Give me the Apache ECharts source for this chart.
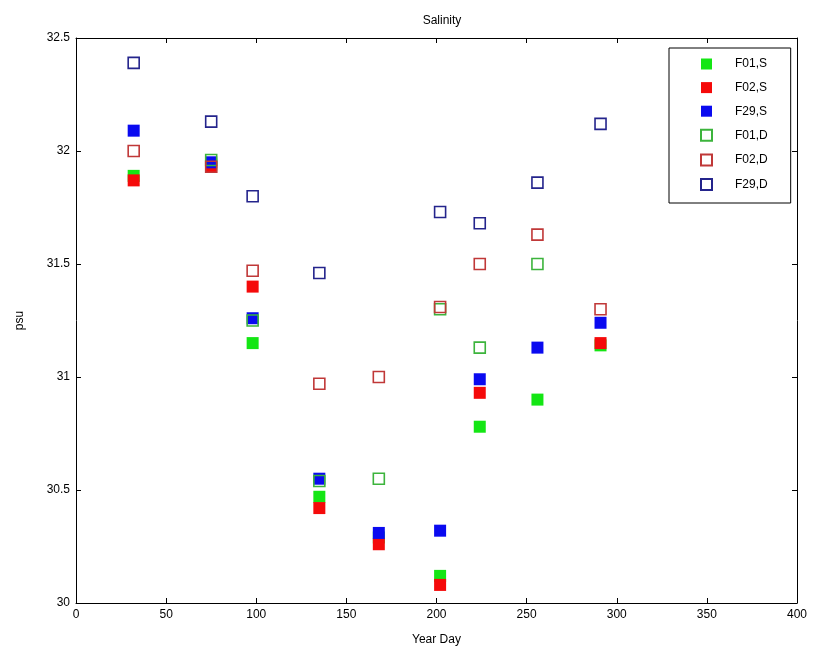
<!DOCTYPE html>
<html>
<head>
<meta charset="utf-8">
<script src="https://cdn.jsdelivr.net/npm/echarts@6/dist/echarts.min.js"></script>
<style>html,body{margin:0;padding:0;background:#fff}#c{width:814px;height:656px}</style>
</head>
<body>
<div id="c"></div>
<script>
const days = [32, 75, 98, 135, 168, 202, 224, 256, 291];
const F01_S = [31.89, 31.94, 31.15, 30.47, 30.29, 30.12, 30.78, 30.90, 31.14];
const F02_S = [31.87, 31.93, 31.40, 30.42, 30.26, 30.08, 30.93, null, 31.15];
const F29_S = [32.09, 31.95, 31.26, 30.55, 30.31, 30.32, 30.99, 31.13, 31.24];
const F01_D = [null, 31.96, 31.25, 30.54, 30.55, 31.30, 31.13, 31.50, null];
const F02_D = [32.00, 31.93, 31.47, 30.97, 31.00, 31.31, 31.50, 31.63, 31.30];
const F29_D = [32.39, 32.13, 31.80, 31.46, null, 31.73, 31.68, 31.86, 32.12];
const xTicks = [0, 400, 50];
const yTicks = [30, 32.5, 0.5];

const font = "'Liberation Sans Narrow','Liberation Sans',Arial,sans-serif";
function pairs(vals){ return days.map((d,i)=> vals[i]==null ? null : [d, vals[i]]).filter(p=>p); }
function filled(name, vals, color){
  return {name, type:'scatter', data:pairs(vals), symbol:'rect', symbolSize:12,
    itemStyle:{color:color, borderColor:color, borderWidth:0, opacity:1}, emphasis:{disabled:true}, z:2};
}
function hollow(name, vals, color){
  return {name, type:'scatter', data:pairs(vals), symbol:'rect', symbolSize:11,
    itemStyle:{color:'rgba(255,255,255,0)', borderColor:color, borderWidth:1.6, opacity:1}, emphasis:{disabled:true}, z:3};
}
const axisCommon = {
  axisLine:{show:true, onZero:false, lineStyle:{color:'#000', width:1}},
  axisTick:{show:true, inside:true, length:5, lineStyle:{color:'#000'}},
  splitLine:{show:false}
};
const chart = echarts.init(document.getElementById('c'), null, {renderer:'canvas'});
chart.setOption({
  animation:false,
  backgroundColor:'#fff',
  title:{text:'Salinity', left:437, top:10, textAlign:'center',
    textStyle:{fontFamily:font, fontSize:12, fontWeight:'normal', color:'#000'}},
  grid:{left:76, right:17, top:38, bottom:53, containLabel:false},
  legend:{orient:'vertical', left:669, top:48, padding:[10,23,12,31],
    itemWidth:11, itemHeight:11, itemGap:11.6,
    borderColor:'#000', borderWidth:1, backgroundColor:'#fff',
    textStyle:{fontFamily:font, fontSize:12, color:'#000', padding:[0,0,0,18]},
    data:['F01,S','F02,S','F29,S','F01,D','F02,D','F29,D']},
  xAxis:[
    Object.assign({type:'value', min:xTicks[0], max:xTicks[1], interval:xTicks[2],
      name:'Year Day', nameLocation:'middle', nameGap:31,
      nameTextStyle:{fontFamily:font, fontSize:12, color:'#000'},
      axisLabel:{fontFamily:font, fontSize:12, color:'#000', margin:6}}, axisCommon),
    Object.assign({type:'value', position:'top', min:xTicks[0], max:xTicks[1], interval:xTicks[2],
      axisLabel:{show:false}}, axisCommon)
  ],
  yAxis:[
    Object.assign({type:'value', min:yTicks[0], max:yTicks[1], interval:yTicks[2],
      name:'psu', nameLocation:'middle', nameGap:50, nameRotate:90,
      nameTextStyle:{fontFamily:font, fontSize:12, color:'#000'},
      axisLabel:{fontFamily:font, fontSize:12, color:'#000', margin:6}}, axisCommon),
    Object.assign({type:'value', position:'right', min:yTicks[0], max:yTicks[1], interval:yTicks[2],
      axisLabel:{show:false}}, axisCommon)
  ],
  series:[
    filled('F01,S', F01_S, '#14e614'),
    filled('F02,S', F02_S, '#f50a0a'),
    filled('F29,S', F29_S, '#0a0af0'),
    hollow('F01,D', F01_D, '#3cb43c'),
    hollow('F02,D', F02_D, '#c03838'),
    hollow('F29,D', F29_D, '#24248c')
  ]
});
</script>
</body>
</html>
